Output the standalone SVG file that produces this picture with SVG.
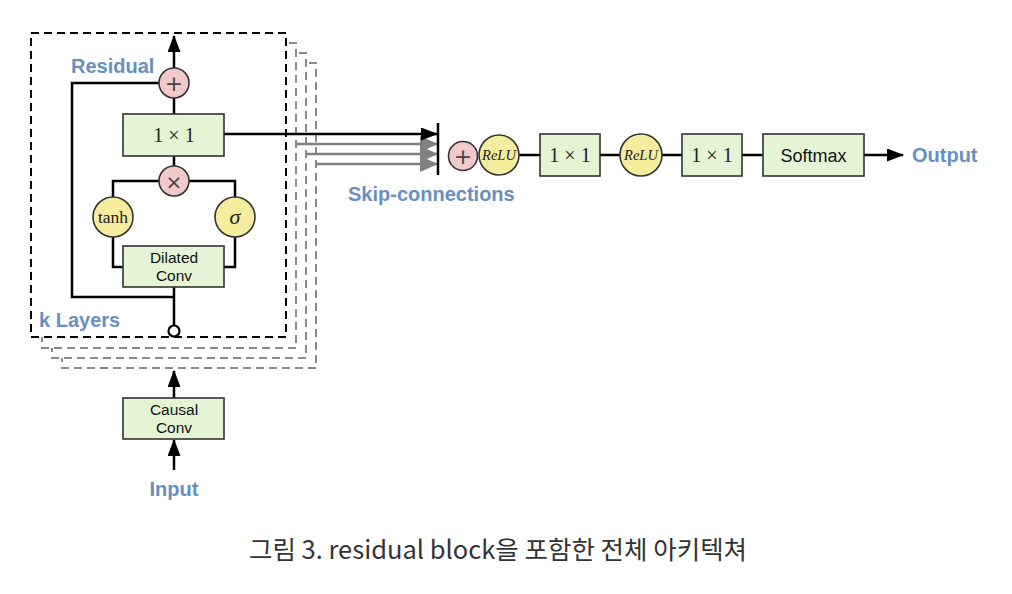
<svg xmlns="http://www.w3.org/2000/svg" width="1012" height="594" viewBox="0 0 1012 594">
<style>
.box{fill:#e3f5d4;stroke:#333;stroke-width:1.6}
.pink{fill:#f1c9c8;stroke:#333;stroke-width:1.6}
.yel{fill:#f5ec9e;stroke:#333;stroke-width:1.6}
.ln{fill:none;stroke:#000;stroke-width:2.5}
.gl{fill:none;stroke:#808080;stroke-width:2.5}
.dk{fill:#fff;stroke:#000;stroke-width:2;stroke-dasharray:8 5}
.dg{fill:#fff;stroke:#8a8a8a;stroke-width:2;stroke-dasharray:8 5}
.lbl{font-family:"Liberation Sans",Arial,sans-serif;font-weight:bold;font-size:20px;fill:#6790c1}
.sans{font-family:"Liberation Sans",Arial,sans-serif;font-size:15.5px;fill:#111;text-anchor:middle}
.ser{font-family:"Liberation Serif","Times New Roman",serif;fill:#222;text-anchor:middle}
.op{font-family:"DejaVu Sans",sans-serif;font-size:22px;fill:#444;text-anchor:middle}
</style>
<defs>
<marker id="ab" markerUnits="userSpaceOnUse" markerWidth="17" markerHeight="13" refX="16" refY="6.5" orient="auto"><path d="M0,0 L17,6.5 L0,13 z" fill="#000"/></marker>
<marker id="ag" markerUnits="userSpaceOnUse" markerWidth="18" markerHeight="16" refX="17" refY="8" orient="auto"><path d="M0,0 L18,8 L0,16 z" fill="#808080"/></marker>
</defs>
<rect width="1012" height="594" fill="#fff"/>

<g id="stack">
<rect class="dg" x="62" y="63" width="254" height="305"/>
<rect class="dg" x="52" y="53" width="254" height="305"/>
<rect class="dg" x="42" y="43" width="254" height="305"/>
<rect class="dk" x="31" y="33" width="255" height="304"/>
</g>

<g id="connectors">
<line class="ln" x1="174" y1="68" x2="174" y2="36" marker-end="url(#ab)"/>
<polyline class="ln" points="159,83 72,83 72,297 174,297"/>
<line class="ln" x1="174" y1="98" x2="174" y2="114"/>
<line class="ln" x1="174" y1="156" x2="174" y2="166"/>
<polyline class="ln" points="159,181 113,181 113,197"/>
<polyline class="ln" points="189,181 235,181 235,197"/>
<polyline class="ln" points="113,237 113,267 123,267"/>
<polyline class="ln" points="235,237 235,267 224,267"/>
<line class="ln" x1="174" y1="287" x2="174" y2="325"/>
<line class="ln" x1="174" y1="398" x2="174" y2="371" marker-end="url(#ab)"/>
<line class="ln" x1="174" y1="470" x2="174" y2="440" marker-end="url(#ab)"/>
<line class="gl" x1="296" y1="144" x2="437" y2="144" marker-end="url(#ag)"/>
<line class="gl" x1="306" y1="154" x2="437" y2="154" marker-end="url(#ag)"/>
<line class="gl" x1="316" y1="164" x2="437" y2="164" marker-end="url(#ag)"/>
<line class="ln" x1="224" y1="134" x2="437" y2="134" marker-end="url(#ab)"/>
<line class="ln" x1="438" y1="123" x2="438" y2="175"/>
<line class="ln" x1="519" y1="155" x2="540" y2="155"/>
<line class="ln" x1="600" y1="155" x2="620" y2="155"/>
<line class="ln" x1="662" y1="155" x2="682" y2="155"/>
<line class="ln" x1="742" y1="155" x2="763" y2="155"/>
<line class="ln" x1="864" y1="155" x2="903" y2="155" marker-end="url(#ab)"/>
</g>

<g id="add1"><circle class="pink" cx="174" cy="83" r="15"/><text class="op" x="174" y="91">+</text></g>
<g id="conv1x1"><rect class="box" x="123" y="114" width="101" height="42"/><text class="ser" x="174" y="142" font-size="20">1 × 1</text></g>
<g id="mul"><circle class="pink" cx="174" cy="181" r="15"/><text class="op" x="174" y="188.5" style="font-size:20px">×</text></g>
<g id="tanh"><circle class="yel" cx="113" cy="217" r="20"/><text class="ser" x="113" y="222.5" font-size="17.5">tanh</text></g>
<g id="sigma"><circle class="yel" cx="235" cy="217" r="20"/><text class="ser" x="235" y="224" font-size="22" font-style="italic">σ</text></g>
<g id="dilated"><rect class="box" x="123" y="246" width="101" height="41"/><text class="sans" x="174" y="263">Dilated</text><text class="sans" x="174" y="281">Conv</text></g>
<g id="tap"><circle cx="174" cy="331" r="5.5" fill="#fff" stroke="#000" stroke-width="2.2"/></g>
<g id="causal"><rect class="box" x="123" y="398" width="101" height="41"/><text class="sans" x="174" y="415">Causal</text><text class="sans" x="174" y="433">Conv</text></g>

<g id="add2"><circle class="pink" cx="463" cy="156" r="14.5"/><text class="op" x="463" y="164">+</text></g>
<g id="relu1"><circle class="yel" cx="499" cy="155" r="20"/><text class="ser" x="499" y="160" font-size="14.5" font-style="italic">ReLU</text></g>
<g id="out1x1a"><rect class="box" x="540" y="134" width="60" height="42"/><text class="ser" x="570" y="162" font-size="20">1 × 1</text></g>
<g id="relu2"><circle class="yel" cx="641" cy="155" r="21"/><text class="ser" x="641" y="160" font-size="14.5" font-style="italic">ReLU</text></g>
<g id="out1x1b"><rect class="box" x="682" y="134" width="60" height="42"/><text class="ser" x="712" y="162" font-size="20">1 × 1</text></g>
<g id="softmax"><rect class="box" x="763" y="134" width="101" height="42"/><text class="sans" x="813.5" y="161.5" style="font-size:18px">Softmax</text></g>

<g id="labels">
<text class="lbl" x="71" y="73">Residual</text>
<text class="lbl" x="39" y="327">k Layers</text>
<text class="lbl" x="348" y="201">Skip-connections</text>
<text class="lbl" x="912" y="162">Output</text>
<text class="lbl" x="174" y="496" text-anchor="middle">Input</text>
</g>
<text x="498" y="559" text-anchor="middle" font-family="'Noto Sans CJK KR','Noto Sans',sans-serif" font-size="25.5" fill="#333">그림 3. residual block을 포함한 전체 아키텍쳐</text>
</svg>
